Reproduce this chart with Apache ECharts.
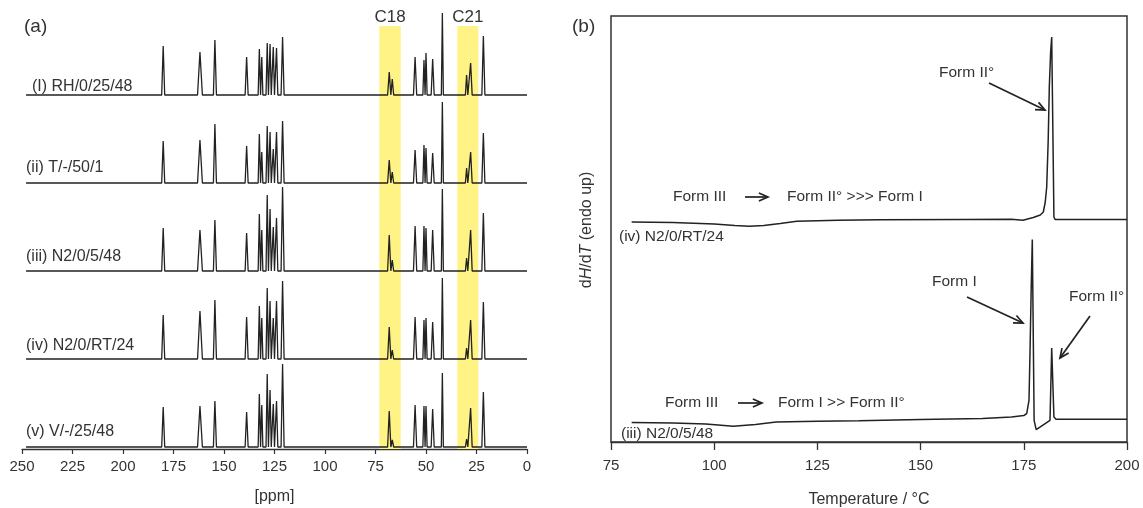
<!DOCTYPE html>
<html><head><meta charset="utf-8">
<script src="https://cdn.jsdelivr.net/npm/echarts@6/dist/echarts.min.js"></script>
<style>html,body{margin:0;padding:0;background:#fff}#c{width:1143px;height:508px}</style>
</head><body><div id="c"></div>
<script>
// ---------- Panel (a): 13C solid-state NMR spectra ----------
const peakPpm       = [180.1, 161.9, 154.5, 138.8, 132.5, 131.3, 128.6, 127.2, 125.6, 124.0, 121.0, 68.2, 66.7, 55.4, 51.0, 50.0, 46.7, 41.9, 29.9, 27.9, 21.6];
const peakHalfWidth = [0.75, 1.2, 0.75, 0.75, 0.6, 0.55, 0.6, 0.6, 0.6, 0.65, 0.75, 0.8, 0.7, 0.8, 0.55, 0.55, 0.75, 0.5, 0.6, 0.75, 0.75];
const spectrumNames = ['(I) RH/0/25/48', '(ii) T/-/50/1', '(iii) N2/0/5/48', '(iv) N2/0/RT/24', '(v) V/-/25/48'];
const heightsI   = [49, 43, 55, 38, 46, 38, 52, 51, 48, 47, 58, 23, 16, 38, 35, 42, 36, 82, 20, 32, 59];
const heightsII  = [42, 43, 59, 37, 49, 31, 57, 51, 34, 51, 62, 23, 11, 33, 38, 35, 30, 81, 15, 31, 50];
const heightsIII = [43, 41, 51, 38, 57, 41, 76, 62, 44, 53, 84, 36, 11, 45, 45, 43, 41, 82, 13, 41, 58];
const heightsIV  = [44, 48, 59, 42, 53, 41, 71, 58, 41, 58, 78, 32,  9, 42, 39, 41, 37, 81, 11, 39, 57];
const heightsV   = [40, 41, 46, 35, 53, 42, 73, 57, 43, 46, 83, 36,  7, 42, 41, 41, 38, 74,  8, 39, 55];
const spectrumHeights = [heightsI, heightsII, heightsIII, heightsIV, heightsV];
const spectrumRange = [248, 0];
const bandC18 = [73.1, 62.5];
const bandC21 = [34.5, 24.1];
const bandLabels = ['C18', 'C21'];

// ---------- Panel (b): DSC traces ----------
const dscIV = [[80,220],[90,219.5],[100,218],[105,216.5],[108.5,215.7],[112,216.5],[116,218.5],[120,220.7],[130,221.7],[140,222.2],[160,222.5],[172,222.7],[174.8,221.7],[177.3,224.5],[179.0,227],[179.73,230],[180.2,240],[180.55,255],[180.9,300],[181.18,355],[181.5,390],[181.76,405],[182.3,225],[182.6,222.4],[190,222.4],[200,222.4]];
const dscIII = [[80,19.4],[90,19],[98,18],[104.6,15.7],[110,17.5],[115,20],[125,20.8],[135,21.2],[150,22.5],[165,23.5],[172,25],[175,26.5],[175.7,28.4],[176.26,41.7],[176.5,88.4],[176.8,155],[177.06,202.4],[177.5,21.7],[178.0,12.4],[181.35,21.7],[181.76,94],[182.3,25],[182.8,22.7],[200,22.7]];
const dscNames = ['(iv) N2/0/RT/24', '(iii) N2/0/5/48'];

const FONT = '"Liberation Sans", Arial, sans-serif';
const TXT = '#333';
const LINE = '#222';

// Build spectrum line points from peak list
function spectrumPoints(heights, offset) {
  const pts = [[spectrumRange[0], offset]];
  peakPpm.forEach((p, i) => {
    const w = peakHalfWidth[i];
    pts.push([p + w, offset], [p, offset + heights[i]], [p - w, offset]);
  });
  pts.push([spectrumRange[1], offset]);
  return pts;
}

const stackGap = 88, baseOffset = 2;
const seriesA = spectrumHeights.map((h, i) => ({
  type: 'line', xAxisIndex: 0, yAxisIndex: 0, z: 3,
  data: spectrumPoints(h, baseOffset + (4 - i) * stackGap),
  symbol: 'none', lineStyle: {color: LINE, width: 1.3}, silent: true
}));

seriesA.push({
  type: 'line', xAxisIndex: 0, yAxisIndex: 0, z: 1, data: [], symbol: 'none',
  markArea: {
    silent: true,
    itemStyle: {color: '#fff385'},
    label: {show: true, position: 'top', color: TXT, fontSize: 17, fontFamily: FONT, distance: 0},
    data: [
      [{name: bandLabels[0], xAxis: bandC18[0], yAxis: 0}, {xAxis: bandC18[1], yAxis: 423}],
      [{name: bandLabels[1], xAxis: bandC21[0], yAxis: 0}, {xAxis: bandC21[1], yAxis: 423}]
    ]
  }
});

const seriesB = [dscIV, dscIII].map(d => ({
  type: 'line', xAxisIndex: 1, yAxisIndex: 1, data: d, symbol: 'none', z: 3,
  lineStyle: {color: LINE, width: 1.5}, silent: true
}));

// graphic helpers
function txt(s, x, y, size) {
  return {type: 'text', x: x, y: y, silent: true,
    style: {text: s, fill: TXT, fontSize: size || 15.5, fontFamily: FONT, align: 'left', verticalAlign: 'middle'}};
}
function arrow(x1, y1, x2, y2) {
  const a = Math.atan2(y2 - y1, x2 - x1), L = 10, s = 0.42;
  const st = {stroke: LINE, lineWidth: 1.7, fill: null};
  return [
    {type: 'polyline', silent: true, shape: {points: [[x1, y1], [x2, y2]]}, style: st},
    {type: 'polyline', silent: true, shape: {points: [
      [x2 - L * Math.cos(a - s), y2 - L * Math.sin(a - s)], [x2, y2],
      [x2 - L * Math.cos(a + s), y2 - L * Math.sin(a + s)]]}, style: st}
  ];
}

const labelPos = [[32, 87], [26, 168], [26, 257], [26, 346], [26, 432]];
const graphics = [
  txt('(a)', 24, 27, 19),
  txt('(b)', 572, 27, 19),
  ...spectrumNames.map((n, i) => txt(n, labelPos[i][0], labelPos[i][1], 16)),
  txt(dscNames[0], 619, 237),
  txt(dscNames[1], 621, 434),
  txt('Form III', 673, 197),
  ...arrow(745, 197, 768, 197),
  txt('Form II° >>> Form I', 787, 197),
  txt('Form III', 665, 403),
  ...arrow(738, 403, 762, 403),
  txt('Form I >> Form II°', 778, 403),
  txt('Form II°', 939, 73),
  ...arrow(989, 83, 1045, 110),
  txt('Form I', 932, 282),
  ...arrow(967, 297, 1023, 323),
  txt('Form II°', 1069, 297),
  ...arrow(1090, 316, 1060, 358),
  {type: 'text', x: 587, y: 230, rotation: Math.PI / 2, silent: true,
   style: {text: '{n|d}{i|H}{n|/d}{i|T}{n| (endo up)}', align: 'center', verticalAlign: 'middle',
     fill: TXT, fontSize: 16, fontFamily: FONT,
     rich: {n: {fontSize: 16, fontFamily: FONT, fill: TXT}, i: {fontSize: 16, fontFamily: FONT, fontStyle: 'italic', fill: TXT}}}}
];

const axisCommon = {
  type: 'value', splitLine: {show: false},
  axisLine: {lineStyle: {color: '#333', width: 1.3}},
  nameLocation: 'middle',
  nameTextStyle: {color: TXT, fontSize: 16, fontFamily: FONT}
};

const option = {
  animation: false,
  backgroundColor: '#fff',
  grid: [
    {left: 22, top: 10, width: 505, height: 439, outerBoundsMode: 'none', containLabel: false},
    {left: 611, top: 16, width: 516, height: 426, outerBoundsMode: 'none', containLabel: false,
     show: true, borderColor: '#333', borderWidth: 1.5}
  ],
  xAxis: [
    Object.assign({}, axisCommon, {gridIndex: 0, inverse: true, min: 0, max: 250, interval: 25,
      axisTick: {length: 5, lineStyle: {color: '#333', width: 1.2}},
      axisLabel: {color: TXT, fontSize: 15, fontFamily: FONT, margin: 10},
      name: '[ppm]', nameGap: 40}),
    Object.assign({}, axisCommon, {gridIndex: 1, min: 75, max: 200, interval: 25,
      axisTick: {length: 8, lineStyle: {color: '#333', width: 1.3}},
      axisLabel: {color: TXT, fontSize: 15, fontFamily: FONT, margin: 16},
      name: 'Temperature / °C', nameGap: 50})
  ],
  yAxis: [
    {type: 'value', gridIndex: 0, min: 0, max: 439, show: false},
    {type: 'value', gridIndex: 1, min: 0, max: 426, show: false}
  ],
  series: [...seriesA, ...seriesB],
  graphic: graphics
};

const chart = echarts.init(document.getElementById('c'), null, {renderer: 'canvas'});
chart.setOption(option);
</script>
</body></html>
